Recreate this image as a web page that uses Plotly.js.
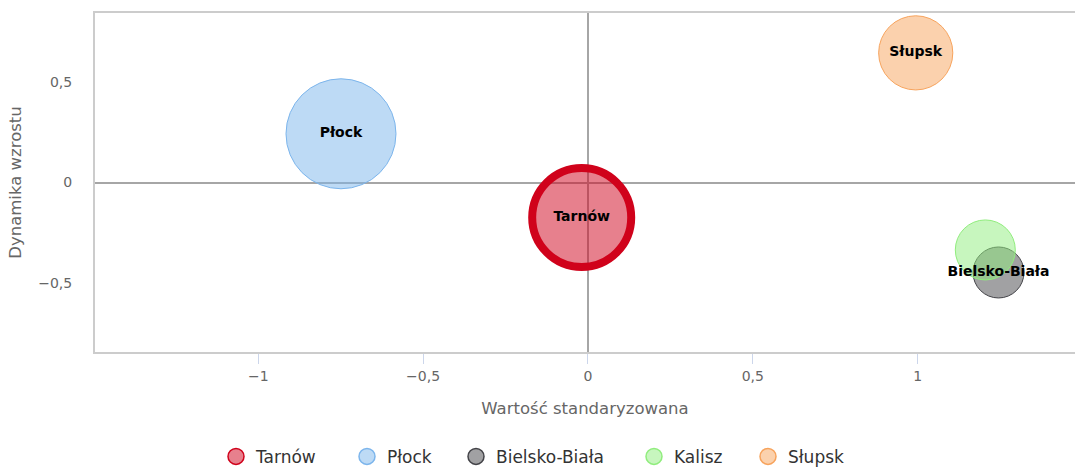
<!DOCTYPE html>
<html>
<head>
<meta charset="utf-8">
<script src="https://cdn.plot.ly/plotly-3.0.1.min.js"></script>
<style>html,body{margin:0;padding:0;background:#fff}#chart{width:1075px;height:470px}</style>
</head>
<body>
<div id="chart"></div>
<script>
// Data
const cities = ["Tarnów", "Płock", "Bielsko-Biała", "Kalisz", "Słupsk"];
const standardizedValue = [-0.019, -0.749, 1.245, 1.205, 0.994];
const growthDynamics = [-0.174, 0.242, -0.447, -0.335, 0.644];
const bubbleValue = [98, 121, 26, 36, 55];
const showLabel = [true, true, true, false, true];

const fills = ["rgba(208,2,27,0.5)", "rgba(124,181,236,0.5)", "rgba(67,67,72,0.5)", "rgba(144,237,125,0.5)", "rgba(247,163,92,0.5)"];
const strokes = ["#d0021b", "#7cb5ec", "#434348", "#90ed7d", "#f7a35c"];
const strokeW = [8, 1, 1, 1, 1];
const legendIds = ["legend", "legend2", "legend3", "legend4", "legend5"];
const legendLeft = [216, 347, 456, 634, 748];
const FONT = "DejaVu Sans, sans-serif";

const traces = [];
cities.forEach((c, i) => {
  traces.push({
    type: "scatter", mode: "markers", name: c,
    x: [standardizedValue[i]], y: [growthDynamics[i]],
    legendgroup: c, showlegend: false,
    marker: {size: [bubbleValue[i]], sizemode: "area", sizeref: 0.02, color: fills[i], opacity: 1,
             line: {color: strokes[i], width: strokeW[i]}},
    hoverinfo: "name+x+y"
  });
});
// legend entries
cities.forEach((c, i) => {
  traces.push({
    type: "scatter", mode: "markers", name: c, legend: legendIds[i],
    x: [null], y: [null], legendgroup: c, showlegend: true,
    marker: {size: 16, color: fills[i], opacity: 1, line: {color: strokes[i], width: 1.5}},
    hoverinfo: "skip"
  });
});
// labels on top
const lx = [], ly = [], lt = [];
cities.forEach((c, i) => { if (showLabel[i]) { lx.push(standardizedValue[i]); ly.push(growthDynamics[i]); lt.push(c); } });
traces.push({
  type: "scatter", mode: "text", x: lx, y: ly, text: lt, showlegend: false, hoverinfo: "skip",
  textposition: "middle center", textfont: {family: FONT, size: 14, color: "#000", weight: "bold"}
});

const layout = {
  width: 1075, height: 470,
  margin: {l: 95, r: 0, t: 13, b: 118},
  paper_bgcolor: "#fff", plot_bgcolor: "#fff",
  separators: ", ",
  font: {family: FONT, color: "#666"},
  showlegend: true,
  xaxis: {
    range: [-1.495, 1.477], tickvals: [-1, -0.5, 0, 0.5, 1],
    showgrid: false, zeroline: true, zerolinecolor: "#a6a6a6", zerolinewidth: 2,
    ticks: "outside", ticklen: 10, tickcolor: "#ccd6eb", tickwidth: 1,
    tickfont: {size: 14, color: "#666"},
    showline: true, mirror: true, linecolor: "#cccccc", linewidth: 2,
    title: {text: "Wartość standaryzowana", font: {size: 16.5, color: "#666"}, standoff: 20}
  },
  yaxis: {
    range: [-0.842, 0.842], tickvals: [-0.5, 0, 0.5],
    showgrid: false, zeroline: true, zerolinecolor: "#a6a6a6", zerolinewidth: 2,
    ticks: "outside", ticklen: 18, tickcolor: "rgba(0,0,0,0)",
    tickfont: {size: 14, color: "#666"},
    showline: true, mirror: true, linecolor: "#cccccc", linewidth: 2,
    title: {text: "Dynamika wzrostu", font: {size: 16.5, color: "#666"}, standoff: 12}
  }
};
legendIds.forEach((id, i) => {
  layout[id] = {orientation: "h", xref: "container", yref: "container", x: legendLeft[i] / 1075, xanchor: "left",
                y: 0.028, yanchor: "middle", font: {family: FONT, size: 17, color: "#333"},
                bgcolor: "rgba(0,0,0,0)", borderwidth: 0};
});

Plotly.newPlot("chart", traces, layout, {displayModeBar: false});
</script>
</body>
</html>
